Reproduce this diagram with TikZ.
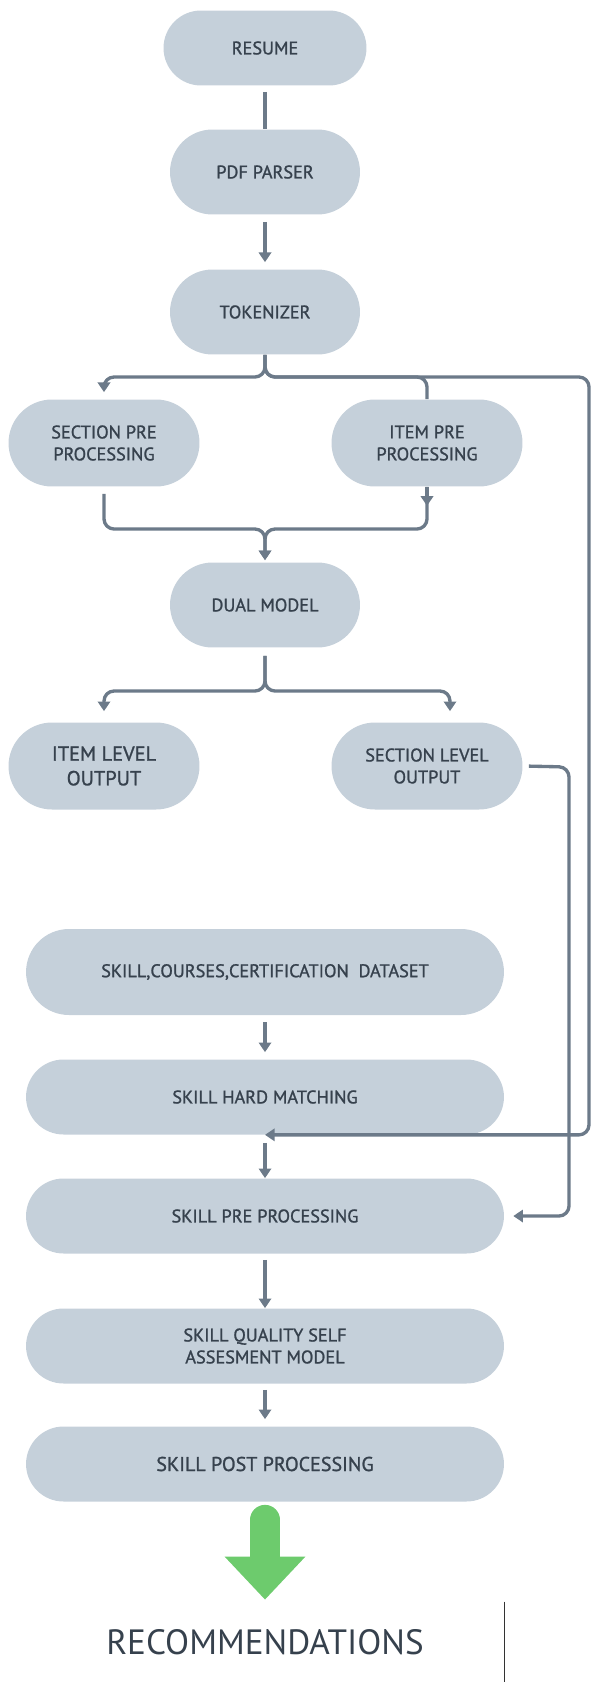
\documentclass[tikz,border=0pt]{standalone}
\usepackage{fontspec}
\setsansfont{PT Sans}
\newfontfamily\labelfont{PT Sans}[FakeBold=1.2]
\usetikzlibrary{arrows.meta}
\definecolor{boxfill}{HTML}{C5D0DA}
\definecolor{boxtext}{HTML}{36414D}
\definecolor{flowline}{HTML}{6C7A89}
\definecolor{recgreen}{HTML}{6DCB6D}
\begin{document}
\begin{tikzpicture}[x=0.02cm, y=-0.02cm, font=\labelfont\fontsize{10.4}{12.5}\selectfont, line join=round,
        stage/.style={fill=boxfill, text=boxtext, rounded corners=0.85cm, minimum width=3.8cm, minimum height=1.7cm, align=center, inner sep=0pt},
        tallstage/.style={stage, minimum width=3.82cm, minimum height=1.74cm, rounded corners=0.87cm},
        widestage/.style={stage, minimum width=9.56cm, minimum height=1.5cm, rounded corners=0.75cm},
        flow/.style={draw=flowline, line width=1.9pt, rounded corners=0.2cm},
        flowarrow/.style={flow, -{Triangle[width=7pt, length=5.5pt]}},
        bigarrow/.style={draw=recgreen, line width=0.6cm, line cap=round, -{Triangle[width=1.56cm, length=0.86cm]}}]
        \useasboundingbox (0,0) rectangle (592,1683);
        \node[stage, minimum width=4.06cm, minimum height=1.5cm, rounded corners=0.75cm] (resume) at (265,48) {RESUME};
        \node[stage] (parser) at (265,172) {PDF PARSER};
        \node[stage] (tokenizer) at (265,312) {TOKENIZER};
        \node[tallstage] (secpre) at (104,443) {SECTION PRE\\PROCESSING};
        \node[tallstage] (itempre) at (427,443) {ITEM PRE\\PROCESSING};
        \node[stage] (dual) at (265,605) {DUAL MODEL};
        \node[tallstage, font=\labelfont\fontsize{11.6}{14}\selectfont] (itemout) at (104,766) {ITEM LEVEL\\OUTPUT};
        \node[tallstage] (secout) at (427,766) {SECTION LEVEL\\OUTPUT};
        \node[widestage, minimum height=1.72cm, rounded corners=0.86cm] (dataset) at (265,972) {SKILL,COURSES,CERTIFICATION\ \ DATASET};
        \node[widestage] (hardmatch) at (265,1097) {SKILL HARD MATCHING};
        \node[widestage] (skillpre) at (265,1216) {SKILL PRE PROCESSING};
        \node[widestage] (quality) at (265,1346) {SKILL QUALITY SELF\\ASSESMENT MODEL};
        \node[widestage, font=\labelfont\fontsize{11.4}{14}\selectfont] (postproc) at (265,1464) {SKILL POST PROCESSING};
        \node[text=boxtext, minimum width=9.56cm, minimum height=1.6cm, font=\sffamily\fontsize{20}{24}\selectfont] (recommend) at (265,1642) {RECOMMENDATIONS};
        \coordinate (tokSplit) at (265,377);
        \coordinate (rail) at (589,377);
        \coordinate (merge) at (265,529);
        \coordinate (dualSplit) at (265,691);
        \coordinate (loopRail) at (569,767);
        \draw[flow, shorten <=0.12cm] (resume) -- (parser);
        \draw[flowarrow, shorten <=0.14cm, shorten >=0.14cm] (parser) -- (tokenizer);
        \draw[flowarrow, shorten >=0.14cm] (tokenizer.south) -- (tokSplit) -| (secpre.north);
        \draw[flow] (tokenizer.south) -- (tokSplit) -| (itempre.north);
        \draw[flowarrow] (tokenizer.south) -- (tokSplit) -- (rail) |- (hardmatch.south);
        \draw[flowarrow, shorten <=0.14cm, shorten >=0.04cm] (secpre.south) |- (merge) -- (dual.north);
        \draw[flowarrow, shorten >=0.04cm] (itempre.south) |- (merge) -- (dual.north);
        \draw[flowarrow] (itempre.south) -- ++(0,19);
        \draw[flowarrow, shorten <=0.16cm, shorten >=0.22cm] (dual.south) -- (dualSplit) -| (itemout.north);
        \draw[flowarrow, shorten <=0.16cm, shorten >=0.22cm] (dual.south) -- (dualSplit) -| ([xshift=0.46cm]secout.north);
        \draw[flowarrow, shorten <=0.12cm, shorten >=0.18cm] (secout.east) -- (loopRail) |- (skillpre.east);
        \draw[flowarrow, shorten <=0.14cm, shorten >=0.14cm] (dataset) -- (hardmatch);
        \draw[flowarrow, shorten <=0.16cm] (hardmatch) -- (skillpre);
        \draw[flowarrow, shorten <=0.12cm] (skillpre) -- (quality);
        \draw[flowarrow, shorten <=0.12cm, shorten >=0.14cm] (quality) -- (postproc);
        \draw[bigarrow, shorten <=0.36cm, shorten >=0.04cm] (postproc) -- (recommend);
        \draw[line width=0.8pt, black!80] (recommend.north east) -- (recommend.south east);
\end{tikzpicture}
\end{document}
